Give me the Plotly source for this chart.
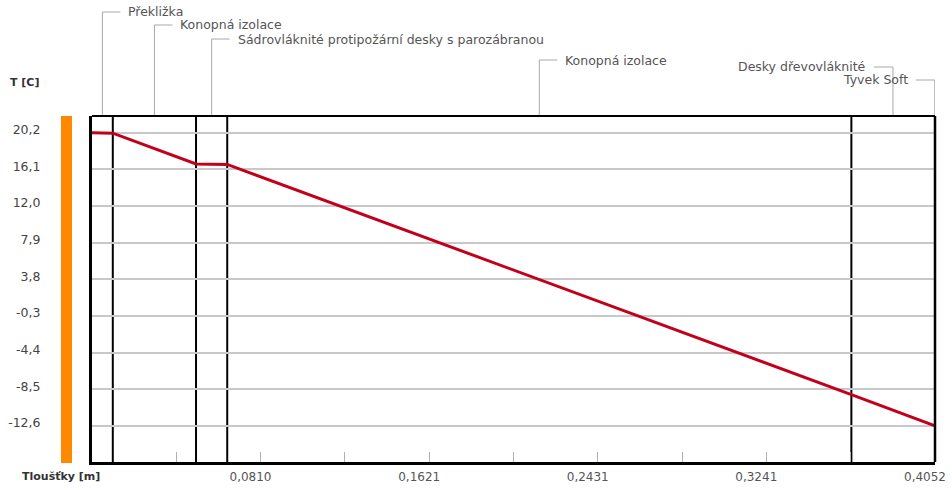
import plotly.graph_objects as go

# ---- data ----
layer_names = ["Překližka", "Konopná izolace",
               "Sádrovláknité protipožární desky s parozábranou",
               "Konopná izolace", "Desky dřevovláknité", "Tyvek Soft"]
layer_thickness_m = [0.010, 0.040, 0.015, 0.300, 0.040, 0.0002]

profile_x_m = [0.0, 0.010, 0.050, 0.065, 0.365, 0.405, 0.4052]
profile_t = [20.2, 20.15, 16.7, 16.65, -9.1, -12.6, -12.6]

y_tick_vals = [20.2, 16.1, 12.0, 7.9, 3.8, -0.3, -4.4, -8.5, -12.6]
y_tick_text = ["20,2", "16,1", "12,0", "7,9", "3,8", "-0,3", "-4,4", "-8,5", "-12,6"]
x_tick_vals = [0.0810, 0.1621, 0.2431, 0.3241, 0.4052]
x_tick_text = ["0,0810", "0,1621", "0,2431", "0,3241", "0,4052"]
x_minor_vals = [0.0405, 0.1216, 0.2026, 0.2836, 0.3646]

# ---- layout constants ----
W, H = 952, 490
ML, MR, MT, MB = 92, 17, 116, 28
PW, PH = W - ML - MR, H - MT - MB
label_level_px = [12, 25, 39, 60, 67, 80]
label_side = ["left", "left", "left", "left", "right", "right"]

def py(px):
    return 1 + (MT - px) / PH

def pxp(px):
    return (px - ML) / PW

FONT = "DejaVu Sans"

fig = go.Figure()
fig.add_trace(go.Scatter(x=profile_x_m, y=profile_t, mode="lines",
                         line=dict(color="#c2001a", width=3),
                         hoverinfo="skip", showlegend=False))

shapes = []
annotations = []

# layer boundaries
bounds = []
acc = 0.0
mids = []
for t in layer_thickness_m:
    mids.append(acc + t / 2)
    acc += t
    bounds.append(acc)
for b in bounds[:-2]:
    shapes.append(dict(type="line", xref="x", yref="paper", x0=b, x1=b, y0=0, y1=1,
                       line=dict(color="black", width=2), layer="between"))

# leaders and labels
for name, m, lvl, side in zip(layer_names, mids, label_level_px, label_side):
    yl = py(lvl)
    shapes.append(dict(type="line", xref="x", yref="paper", x0=m, x1=m, y0=1, y1=yl,
                       line=dict(color="#a8a8a8", width=1)))
    if side == "left":
        shapes.append(dict(type="line", xref="x", xsizemode="pixel", xanchor=m,
                           x0=0, x1=18, yref="paper", y0=yl, y1=yl,
                           line=dict(color="#a8a8a8", width=1)))
        annotations.append(dict(x=m, xref="x", xshift=24, xanchor="left",
                                y=yl, yref="paper", yanchor="middle", text=name,
                                showarrow=False, font=dict(family=FONT, size=12.5, color="#555")))
    else:
        shapes.append(dict(type="line", xref="x", xsizemode="pixel", xanchor=m,
                           x0=-19, x1=0, yref="paper", y0=yl, y1=yl,
                           line=dict(color="#a8a8a8", width=1)))
        annotations.append(dict(x=m, xref="x", xshift=-25, xanchor="right",
                                y=yl, yref="paper", yanchor="middle", text=name,
                                showarrow=False, font=dict(family=FONT, size=12.5, color="#555")))

# frame top/right
shapes.append(dict(type="line", xref="paper", yref="paper", x0=0, x1=1, y0=1, y1=1,
                   line=dict(color="black", width=2)))
shapes.append(dict(type="line", xref="paper", yref="paper", x0=1, x1=1, y0=0, y1=1,
                   line=dict(color="black", width=2.5)))
# orange bar
shapes.append(dict(type="rect", xref="paper", yref="paper", x0=pxp(61), x1=pxp(72),
                   y0=py(463), y1=1, fillcolor="#ff8800", line=dict(width=0)))

annotations.append(dict(x=pxp(8), xref="paper", xanchor="left", y=py(83), yref="paper",
                        yanchor="middle", text="<b>T [C]</b>", showarrow=False,
                        font=dict(family=FONT, size=11, color="#333")))
annotations.append(dict(x=pxp(20), xref="paper", xanchor="left", y=py(476), yref="paper",
                        yanchor="middle", text="<b>Tloušťky [m]</b>", showarrow=False,
                        font=dict(family=FONT, size=11, color="#333")))

fig.update_layout(
    width=W, height=H,
    margin=dict(l=ML, r=MR, t=MT, b=MB, pad=0, autoexpand=False),
    paper_bgcolor="white", plot_bgcolor="white",
    showlegend=False,
    shapes=shapes, annotations=annotations,
    font=dict(family=FONT, size=12, color="#555"),
)
fig.update_xaxes(range=[0, 0.4052], showgrid=False, zeroline=False, automargin=False,
                 showline=True, linecolor="black", linewidth=3,
                 tickmode="array", tickvals=x_tick_vals, ticktext=x_tick_text,
                 ticks="inside", ticklen=10, tickcolor="#b0b0b0", tickwidth=1,
                 ticklabelshift=-10, ticklabelstandoff=2,
                 minor=dict(tickmode="array", tickvals=x_minor_vals, ticks="inside",
                            ticklen=10, tickcolor="#b0b0b0", tickwidth=1, showgrid=False),
                 tickfont=dict(family=FONT, size=12, color="#555"))
fig.update_yaxes(range=[-16.63, 22.07], showgrid=True, gridcolor="#c8c8c8", gridwidth=1.5,
                 zeroline=False, showline=True, linecolor="black", linewidth=3, automargin=False,
                 tickmode="array", tickvals=y_tick_vals, ticktext=y_tick_text,
                 ticks="", ticklabelstandoff=46, ticklabelshift=-3,
                 tickfont=dict(family=FONT, size=12.5, color="#444"))

fig.write_html("out.html", config={"displayModeBar": False},
               post_script="document.body.style.margin='0';document.body.style.overflow='hidden';")
